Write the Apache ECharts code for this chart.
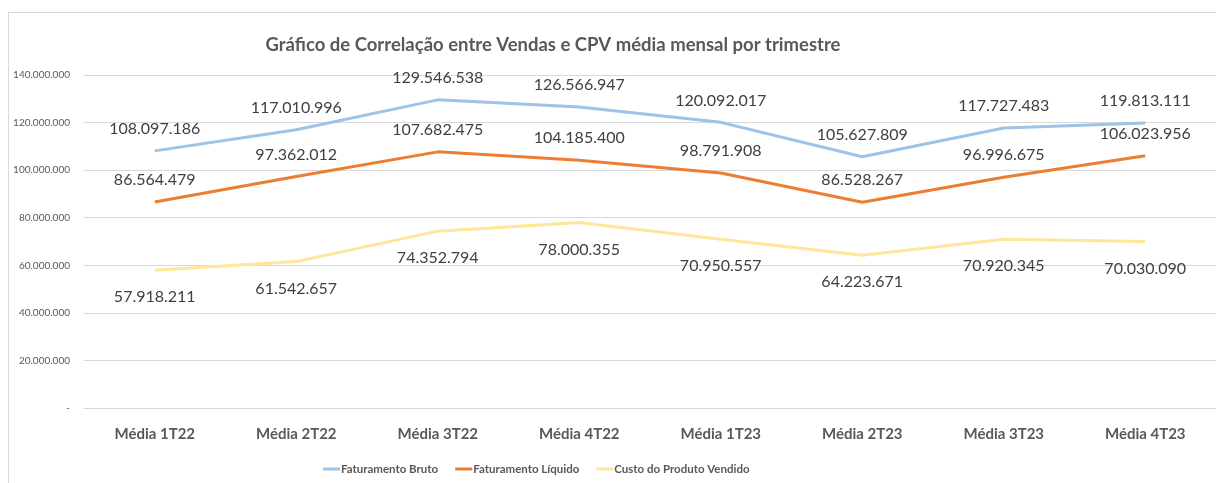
<!DOCTYPE html>
<html>
<head>
<meta charset="utf-8">
<script src="https://cdn.jsdelivr.net/npm/echarts@6/dist/echarts.min.js"></script>
<style>
html,body{margin:0;padding:0;background:#fff;}
#frame{position:absolute;left:8px;top:12px;width:1220px;height:480px;border:1px solid #d9d9d9;box-sizing:border-box;}
#c{position:absolute;left:0;top:0;width:1216px;height:483px;}
</style>
</head>
<body>
<div id="frame"></div>
<div id="c"></div>
<script>
const categories = ['Média 1T22','Média 2T22','Média 3T22','Média 4T22','Média 1T23','Média 2T23','Média 3T23','Média 4T23'];
const faturamentoBruto = [108097186,117010996,129546538,126566947,120092017,105627809,117727483,119813111];
const faturamentoLiquido = [86564479,97362012,107682475,104185400,98791908,86528267,96996675,106023956];
const custoProdutoVendido = [57918211,61542657,74352794,78000355,70950557,64223671,70920345,70030090];
const seriesNames = ['Faturamento Bruto','Faturamento Líquido','Custo do Produto Vendido'];

const fmt = v => v === 0 ? '-' : Math.round(v).toString().replace(/\B(?=(\d{3})+(?!\d))/g, '.');
const font = 'Lato, "DejaVu Sans Condensed", sans-serif';

const chart = echarts.init(document.getElementById('c'));
function mk(name, data, color, pos, dist){
  return {
    name, type:'line', data, symbol:'circle', symbolSize:0, showSymbol:true, smooth:false,
    lineStyle:{color, width:3}, itemStyle:{color},
    label:{show:true, position:pos, distance:dist, formatter:p=>fmt(p.value),
      fontFamily:font, fontSize:16, color:'#404040'}
  };
}
chart.setOption({
  animation:false,
  title:{text:'Gráfico de Correlação entre Vendas e CPV média mensal por trimestre',
    left:548, top:31, textAlign:'center',
    textStyle:{fontFamily:font, fontSize:18.5, fontWeight:'bold', color:'#595959'}},
  legend:{top:458, left:318, itemWidth:17, itemHeight:3, itemGap:17, icon:'rect',
    textStyle:{fontFamily:font, fontSize:11.5, color:'#595959', fontWeight:'bold', padding:[0,0,0,-4]},
    data:seriesNames},
  grid:{left:84, right:0, top:75, bottom:75, containLabel:false},
  xAxis:{type:'category', data:categories, boundaryGap:true,
    axisLine:{show:true, lineStyle:{color:'#d9d9d9'}}, axisTick:{show:false},
    axisLabel:{fontFamily:font, fontSize:15, fontWeight:'bold', color:'#595959', margin:19}},
  yAxis:{type:'value', min:0, max:140000000, interval:20000000,
    axisLine:{show:false}, axisTick:{show:false},
    splitLine:{lineStyle:{color:'#d9d9d9'}},
    axisLabel:{formatter:fmt, fontFamily:font, fontSize:10, color:'#595959', margin:14}},
  series:[
    mk(seriesNames[0], faturamentoBruto, '#9dc3e6', 'top', 14),
    mk(seriesNames[1], faturamentoLiquido, '#ed7d31', 'top', 14),
    mk(seriesNames[2], custoProdutoVendido, '#ffe699', 'bottom', 19)
  ]
});
</script>
</body>
</html>
